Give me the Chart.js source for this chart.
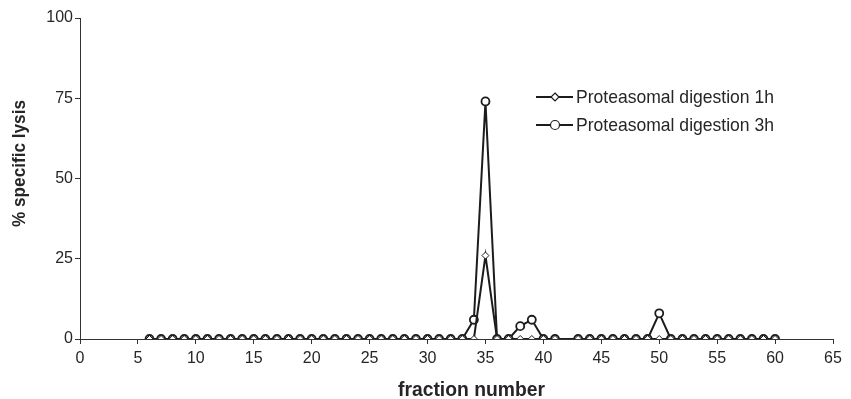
<!DOCTYPE html>
<html>
<head>
<meta charset="utf-8">
<script src="https://cdn.jsdelivr.net/npm/chart.js@4.4.1/dist/chart.umd.min.js"></script>
<style>
  html, body { margin: 0; padding: 0; background: #fff; }
  #wrap { width: 851px; height: 399px; }
</style>
</head>
<body>
<div id="wrap"><canvas id="chart" width="851" height="399"></canvas></div>
<script>
// fraction numbers (no fraction 42 in the reference)
const fractions = [6, 7, 8, 9, 10, 11, 12, 13, 14, 15, 16, 17, 18, 19, 20, 21, 22, 23, 24, 25,
  26, 27, 28, 29, 30, 31, 32, 33, 34, 35, 36, 37, 38, 39, 40, 41,
  43, 44, 45, 46, 47, 48, 49, 50, 51, 52, 53, 54, 55, 56, 57, 58, 59, 60];

const digest1h = [0, 0, 0, 0, 0, 0, 0, 0, 0, 0, 0, 0, 0, 0, 0, 0, 0, 0, 0, 0,
  0, 0, 0, 0, 0, 0, 0, 0, 0, 26, 0, 0, 0, 0, 0, 0,
  0, 0, 0, 0, 0, 0, 0, 0, 0, 0, 0, 0, 0, 0, 0, 0, 0, 0];

const digest3h = [0, 0, 0, 0, 0, 0, 0, 0, 0, 0, 0, 0, 0, 0, 0, 0, 0, 0, 0, 0,
  0, 0, 0, 0, 0, 0, 0, 0, 6, 74, 0, 0, 4, 6, 0, 0,
  0, 0, 0, 0, 0, 0, 0, 8, 0, 0, 0, 0, 0, 0, 0, 0, 0, 0];

const seriesNames = ['Proteasomal digestion 1h', 'Proteasomal digestion 3h'];
const xTicks = [0, 5, 10, 15, 20, 25, 30, 35, 40, 45, 50, 55, 60, 65];
const yTicks = [0, 25, 50, 75, 100];

const toPoints = (vals) => fractions.map((f, i) => ({ x: f, y: vals[i] }));

const INK = '#1c1c1c';
const TEXT = '#262626';

// the reference uses a condensed face, so squeeze the text to its width
function narrowText(ctx, text, x, y, width) {
  const w = ctx.measureText(text).width;
  ctx.save();
  ctx.translate(x, y);
  ctx.scale(width / w, 1);
  ctx.fillText(text, 0, 0);
  ctx.restore();
}

// axis titles and the line+marker legend
const extras = {
  id: 'extras',
  afterDraw(chart) {
    const ctx = chart.ctx;
    ctx.save();

    // axis titles
    ctx.fillStyle = TEXT;
    ctx.font = 'bold 20px "Liberation Sans", Arial, sans-serif';
    ctx.textAlign = 'left';
    ctx.textBaseline = 'alphabetic';
    narrowText(ctx, 'fraction number', 398, 396, 147);
    ctx.textBaseline = 'middle';
    ctx.font = 'bold 19px "Liberation Sans", Arial, sans-serif';
    ctx.save();
    ctx.translate(20, 227);
    ctx.rotate(-Math.PI / 2);
    narrowText(ctx, '% specific lysis', 0, 0, 127);
    ctx.restore();

    // legend
    const rows = [97, 125];
    ctx.font = '19px "Liberation Sans", Arial, sans-serif';
    rows.forEach((y, i) => {
      ctx.strokeStyle = INK;
      ctx.lineWidth = 2;
      ctx.beginPath();
      ctx.moveTo(536, y);
      ctx.lineTo(573, y);
      ctx.stroke();
      ctx.fillStyle = '#fff';
      ctx.lineWidth = 1.2;
      ctx.beginPath();
      if (i === 0) {
        ctx.moveTo(555, y - 4);
        ctx.lineTo(559, y);
        ctx.lineTo(555, y + 4);
        ctx.lineTo(551, y);
        ctx.closePath();
      } else {
        ctx.arc(555, y, 4.5, 0, Math.PI * 2);
      }
      ctx.fill();
      ctx.stroke();
      ctx.fillStyle = TEXT;
      narrowText(ctx, seriesNames[i], 576, y + 1, 198);
    });
    ctx.restore();
  }
};

new Chart(document.getElementById('chart'), {
  type: 'line',
  data: {
    datasets: [
      {
        label: seriesNames[0],
        data: toPoints(digest1h),
        borderColor: INK,
        borderWidth: 2,
        pointStyle: 'rectRot',
        pointRadius: 3.5,
        pointBackgroundColor: '#fff',
        pointBorderColor: INK,
        pointBorderWidth: 1,
        tension: 0
      },
      {
        label: seriesNames[1],
        data: toPoints(digest3h),
        borderColor: INK,
        borderWidth: 2,
        pointStyle: 'circle',
        pointRadius: 4,
        pointBackgroundColor: '#fff',
        pointBorderColor: INK,
        pointBorderWidth: 1.8,
        tension: 0
      }
    ]
  },
  options: {
    responsive: false,
    animation: false,
    layout: { padding: { left: 0, right: 18, top: 18, bottom: 0 } },
    plugins: { legend: { display: false }, tooltip: { enabled: false } },
    scales: {
      x: {
        type: 'linear',
        min: 0,
        max: 65,
        afterBuildTicks: (s) => { s.ticks = xTicks.map(v => ({ value: v })); },
        afterFit: (s) => { s.height = 60; },
        grid: { drawOnChartArea: false, drawTicks: true, tickLength: 5, color: '#333' },
        border: { display: true, color: '#333', width: 1 },
        ticks: { color: TEXT, padding: 5, maxRotation: 0,
          font: { family: '"Liberation Sans", Arial, sans-serif', size: 16 } }
      },
      y: {
        min: 0,
        max: 100,
        afterBuildTicks: (s) => { s.ticks = yTicks.map(v => ({ value: v })); },
        afterFit: (s) => { s.width = 80; },
        grid: { drawOnChartArea: false, drawTicks: true, tickLength: 5, color: '#333' },
        border: { display: true, color: '#333', width: 1 },
        ticks: { color: TEXT, padding: 2,
          font: { family: '"Liberation Sans", Arial, sans-serif', size: 16 } }
      }
    }
  },
  plugins: [extras]
});
</script>
</body>
</html>
